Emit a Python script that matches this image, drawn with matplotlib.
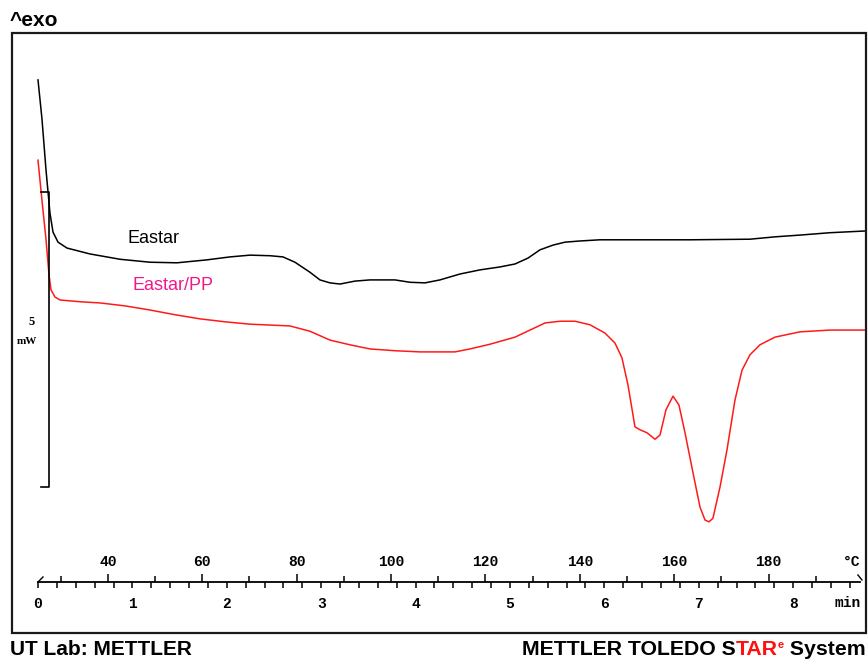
import matplotlib
matplotlib.use("Agg")
import matplotlib.pyplot as plt
import numpy as np
from matplotlib.patches import Rectangle
from matplotlib.ticker import MultipleLocator, FixedLocator, NullFormatter

# ---------------- data (time in min, heat flow in mW, exo up) ----------------
eastar_t = [0.000, 0.042, 0.085, 0.127, 0.159, 0.212, 0.307, 0.551, 0.869, 1.186,
            1.472, 1.790, 2.034, 2.246, 2.458, 2.595, 2.722, 2.881, 2.987, 3.093,
            3.199, 3.358, 3.517, 3.782, 3.941, 4.100, 4.258, 4.470, 4.682, 4.894,
            5.053, 5.191, 5.318, 5.456, 5.583, 5.742, 5.953, 6.324, 6.907, 7.542,
            7.807, 8.072, 8.390, 8.771]
eastar_q = [6.90, 6.24, 5.37, 4.64, 4.32, 4.15, 4.05, 3.95, 3.86, 3.81,
            3.80, 3.85, 3.90, 3.93, 3.92, 3.90, 3.81, 3.64, 3.51, 3.46,
            3.44, 3.49, 3.51, 3.51, 3.47, 3.46, 3.51, 3.61, 3.68, 3.73,
            3.78, 3.88, 4.02, 4.10, 4.15, 4.17, 4.19, 4.19, 4.19, 4.20,
            4.24, 4.27, 4.31, 4.34]

blend_t = [0.000, 0.042, 0.085, 0.117, 0.138, 0.180, 0.233, 0.445, 0.657, 0.922,
           1.186, 1.451, 1.716, 1.981, 2.246, 2.669, 2.881, 3.093, 3.305, 3.517,
           3.782, 4.047, 4.417, 4.576, 4.788, 5.053, 5.212, 5.371, 5.530, 5.689,
           5.847, 6.006, 6.112, 6.186, 6.250, 6.324, 6.377, 6.451, 6.536, 6.589,
           6.653, 6.727, 6.790, 6.854, 6.939, 7.013, 7.066, 7.108, 7.150, 7.225,
           7.299, 7.383, 7.458, 7.542, 7.648, 7.807, 8.072, 8.390, 8.771]
blend_q = [5.54, 4.86, 4.19, 3.59, 3.34, 3.22, 3.17, 3.14, 3.12, 3.07,
           3.00, 2.92, 2.85, 2.80, 2.76, 2.73, 2.64, 2.49, 2.41, 2.34,
           2.31, 2.29, 2.29, 2.34, 2.42, 2.54, 2.66, 2.78, 2.81, 2.81,
           2.75, 2.61, 2.44, 2.19, 1.73, 1.02, 0.97, 0.92, 0.81, 0.88,
           1.31, 1.54, 1.39, 0.92, 0.24, -0.34, -0.56, -0.59, -0.53, 0.00,
           0.63, 1.47, 1.98, 2.24, 2.41, 2.54, 2.63, 2.66, 2.66]

series_names = ["Eastar", "Eastar/PP"]
temp_labels = [40, 60, 80, 100, 120, 140, 160, 180]
temp_minor = [30, 50, 70, 90, 110, 130, 150, 170, 190]
time_labels = [0, 1, 2, 3, 4, 5, 6, 7, 8]
T_START = 25.2      # deg C at t = 0
RATE = 20.0         # K/min
SCALE_MW = 5        # scale bar length, mW

# ---------------- figure ----------------
W, H = 868, 661
fig = plt.figure(figsize=(W / 100, H / 100), dpi=100)
fig.patch.set_facecolor("white")

def fx(px):
    return px / W

def fy(py):
    return (H - py) / H

# outer frame
fig.patches.append(Rectangle((fx(12), fy(633)), fx(866) - fx(12), fy(33) - fy(633),
                             transform=fig.transFigure, fill=False,
                             edgecolor="#1a1a1a", linewidth=1.6))

AX_L, AX_R, AX_B, AX_T = 38, 860, 582, 33
ax = fig.add_axes([fx(AX_L), fy(AX_B), fx(AX_R) - fx(AX_L), fy(AX_T) - fy(AX_B)])
ax.set_facecolor("none")
ax.set_xlim(0, 8.708)
ax.set_ylim(-1.610, 7.695)
for s in ["top", "left", "right"]:
    ax.spines[s].set_visible(False)
ax.spines["bottom"].set_linewidth(1.3)
ax.set_yticks([])

# time axis (below)
ax.xaxis.set_major_locator(FixedLocator(time_labels))
ax.xaxis.set_minor_locator(MultipleLocator(0.2))
ax.tick_params(axis="x", which="both", direction="out", length=4, width=1.1,
               color="black")
ax.tick_params(axis="x", which="major", pad=7)
mono = {"family": "Liberation Mono", "weight": "bold", "size": 10.5}
ax.set_xticklabels([str(v) for v in time_labels], fontdict=mono)

# temperature axis (above the same line)
sec = ax.secondary_xaxis(0.0, functions=(lambda t: T_START + RATE * t,
                                         lambda T: (T - T_START) / RATE))
sec.set_alignment("top")
sec.spines["top"].set_visible(False)
sec.spines["bottom"].set_visible(False)
sec.xaxis.set_major_locator(FixedLocator(temp_labels))
sec.xaxis.set_minor_locator(FixedLocator(temp_minor))
sec.xaxis.set_minor_formatter(NullFormatter())
sec.tick_params(axis="x", which="major", direction="out", length=5.5, width=1.1, pad=4)
sec.tick_params(axis="x", which="minor", direction="out", length=4.3, width=1.1)
sec.set_xticks(temp_labels)
sec.set_xticklabels([str(v) for v in temp_labels], fontdict=mono)

# unit labels (pixel positions converted to axes fractions)
axw = AX_R - AX_L
axh = AX_B - AX_T
ax.text((852 - AX_L) / axw, (AX_B - 562) / axh, "°C", transform=ax.transAxes,
        fontdict=mono, ha="center", va="center", clip_on=False)
ax.text((848 - AX_L) / axw, (AX_B - 603) / axh, "min", transform=ax.transAxes,
        fontdict=mono, ha="center", va="center", clip_on=False)

# axis end marks
ax.plot([0, 0.053], [-1.610, -1.525], color="black", lw=1.0, clip_on=False)
ax.plot([8.686, 8.729], [-1.491, -1.576], color="black", lw=1.0, clip_on=False)

# curves
ax.plot(eastar_t, eastar_q, color="black", lw=1.1, clip_on=False)
ax.plot(blend_t, blend_q, color="#ff1a1a", lw=1.1, clip_on=False)

# scale bar
xb = 0.117
ax.plot([0.03, xb, xb, 0.03], [SCALE_MW, SCALE_MW, 0, 0], color="black", lw=1.2,
        clip_on=False)
serif = {"family": "Liberation Serif", "weight": "bold"}
ax.text(-0.064, 2.80, str(SCALE_MW), fontdict=serif, fontsize=9, ha="center",
        va="center", clip_on=False)
ax.text(-0.117, 2.46, "mW", fontdict=serif, fontsize=8, ha="center", va="center",
        clip_on=False)

# curve labels
ax.text(0.953, 4.14, series_names[0], color="black", fontsize=13,
        family="Liberation Sans", ha="left", va="baseline")
ax.text(0.996, 3.34, series_names[1], color="#f0198c", fontsize=13,
        family="Liberation Sans", ha="left", va="baseline")

# header / footer
fig.text(fx(10), fy(26), "^exo", fontsize=15, family="Liberation Sans",
         weight="bold", ha="left", va="baseline")
fig.text(fx(10), fy(655), "UT Lab: METTLER", fontsize=15, family="Liberation Sans",
         weight="bold", ha="left", va="baseline")

renderer = fig.canvas.get_renderer()
pieces = [("METTLER TOLEDO S", "black", 15.3, 0),
          ("TAR", "#ff1010", 15.3, 0),
          ("e", "#ff1010", 8, 7),
          (" System", "black", 15.3, 0)]
xpix = 522
for s, c, size, dy in pieces:
    t = fig.text(fx(xpix), fy(655 - dy), s, fontsize=size, color=c,
                 family="Liberation Sans", weight="bold", ha="left", va="baseline")
    bb = t.get_window_extent(renderer)
    xpix = bb.x1

fig.savefig("out.png", dpi=100, facecolor="white")
